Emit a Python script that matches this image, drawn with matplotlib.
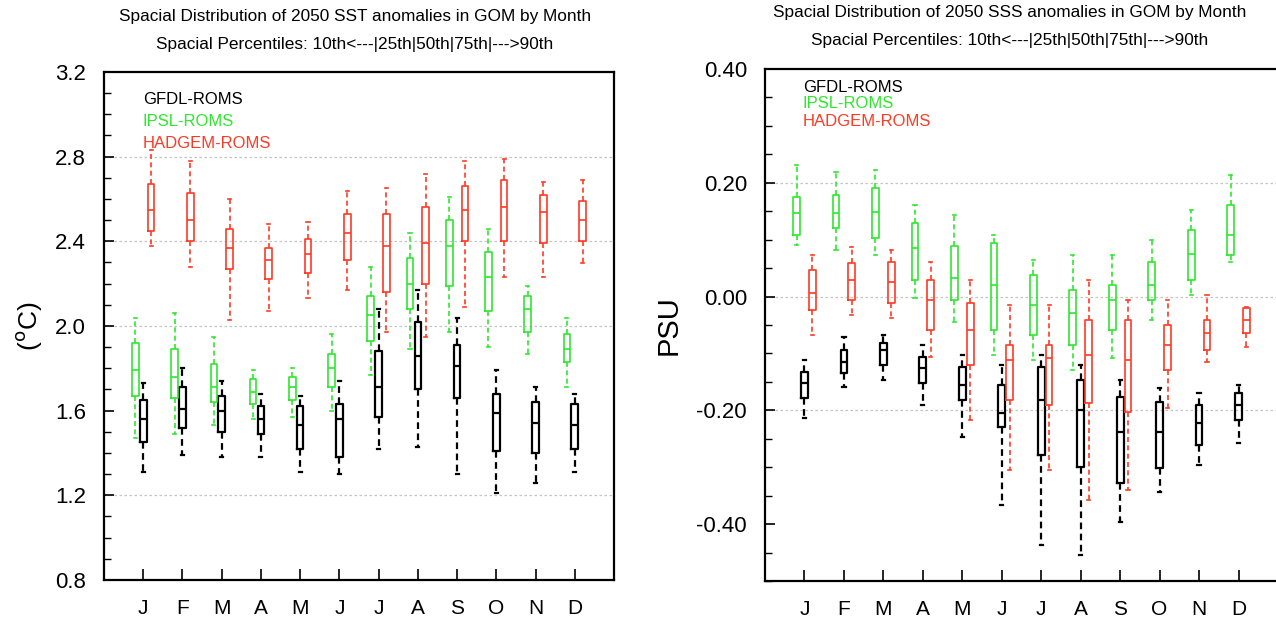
import numpy as np
import matplotlib
matplotlib.use('Agg')
import matplotlib.pyplot as plt
from matplotlib.ticker import MultipleLocator, FormatStrFormatter

plt.rcParams['font.family'] = ['Liberation Sans', 'DejaVu Sans']

months = ['J', 'F', 'M', 'A', 'M', 'J', 'J', 'A', 'S', 'O', 'N', 'D']
models = ['GFDL-ROMS', 'IPSL-ROMS', 'HADGEM-ROMS']

# rows: 10th, 25th, 50th, 75th, 90th spatial percentile ; columns: months
sst_gfdl = [
    [1.31, 1.39, 1.38, 1.38, 1.31, 1.30, 1.42, 1.43, 1.30, 1.21, 1.26, 1.31],
    [1.45, 1.52, 1.50, 1.49, 1.42, 1.38, 1.57, 1.70, 1.66, 1.41, 1.40, 1.42],
    [1.56, 1.61, 1.60, 1.56, 1.53, 1.56, 1.71, 1.86, 1.81, 1.59, 1.54, 1.53],
    [1.65, 1.71, 1.67, 1.62, 1.62, 1.63, 1.88, 2.02, 1.91, 1.68, 1.64, 1.63],
    [1.73, 1.80, 1.74, 1.68, 1.67, 1.74, 2.08, 2.17, 2.04, 1.79, 1.71, 1.68],
]
sst_ipsl = [
    [1.47, 1.49, 1.53, 1.56, 1.57, 1.60, 1.77, 1.89, 1.97, 1.90, 1.87, 1.71],
    [1.67, 1.66, 1.64, 1.63, 1.65, 1.71, 1.93, 2.08, 2.19, 2.07, 1.97, 1.83],
    [1.79, 1.76, 1.71, 1.69, 1.71, 1.80, 2.05, 2.20, 2.38, 2.23, 2.08, 1.89],
    [1.92, 1.89, 1.82, 1.75, 1.76, 1.87, 2.14, 2.32, 2.50, 2.35, 2.14, 1.96],
    [2.04, 2.06, 1.95, 1.79, 1.80, 1.96, 2.28, 2.44, 2.61, 2.46, 2.19, 2.04],
]
sst_hadgem = [
    [2.38, 2.28, 2.03, 2.07, 2.13, 2.17, 1.97, 1.95, 2.09, 2.23, 2.23, 2.30],
    [2.45, 2.40, 2.27, 2.22, 2.25, 2.31, 2.16, 2.20, 2.40, 2.40, 2.39, 2.40],
    [2.55, 2.50, 2.37, 2.31, 2.34, 2.44, 2.38, 2.39, 2.55, 2.56, 2.54, 2.50],
    [2.67, 2.63, 2.46, 2.37, 2.41, 2.53, 2.53, 2.56, 2.66, 2.69, 2.62, 2.59],
    [2.83, 2.78, 2.60, 2.48, 2.49, 2.64, 2.65, 2.72, 2.78, 2.79, 2.68, 2.69],
]

sss_gfdl = [
    [-0.213, -0.159, -0.147, -0.191, -0.247, -0.366, -0.437, -0.454, -0.396, -0.344, -0.296, -0.257],
    [-0.178, -0.134, -0.120, -0.152, -0.182, -0.229, -0.279, -0.300, -0.328, -0.301, -0.261, -0.217],
    [-0.152, -0.115, -0.094, -0.126, -0.155, -0.205, -0.182, -0.199, -0.238, -0.238, -0.222, -0.191],
    [-0.133, -0.094, -0.082, -0.106, -0.124, -0.155, -0.124, -0.147, -0.177, -0.185, -0.191, -0.170],
    [-0.112, -0.071, -0.068, -0.085, -0.103, -0.120, -0.103, -0.120, -0.147, -0.161, -0.170, -0.155],
]
sss_ipsl = [
    [0.091, 0.082, 0.073, -0.002, -0.045, -0.103, -0.112, -0.129, -0.108, -0.041, 0.003, 0.061],
    [0.108, 0.120, 0.103, 0.029, -0.006, -0.059, -0.068, -0.085, -0.059, -0.006, 0.029, 0.073],
    [0.147, 0.147, 0.149, 0.085, 0.033, 0.020, -0.015, -0.029, -0.006, 0.020, 0.075, 0.108],
    [0.175, 0.178, 0.191, 0.129, 0.089, 0.094, 0.038, 0.012, 0.020, 0.061, 0.117, 0.161],
    [0.231, 0.219, 0.222, 0.161, 0.143, 0.108, 0.064, 0.073, 0.073, 0.099, 0.152, 0.214],
]
sss_hadgem = [
    [-0.068, -0.032, -0.038, -0.106, -0.217, -0.305, -0.305, -0.358, -0.340, -0.196, -0.115, -0.089],
    [-0.024, -0.006, -0.011, -0.059, -0.120, -0.182, -0.191, -0.187, -0.203, -0.129, -0.094, -0.064],
    [0.006, 0.029, 0.026, -0.006, -0.059, -0.112, -0.108, -0.103, -0.111, -0.085, -0.064, -0.041],
    [0.047, 0.059, 0.061, 0.029, -0.011, -0.085, -0.085, -0.041, -0.041, -0.050, -0.041, -0.020],
    [0.073, 0.087, 0.082, 0.061, 0.029, -0.015, -0.015, 0.029, -0.006, -0.006, 0.003, -0.018],
]

colors = ['black', '#2ee82e', '#ff3a24']
offsets = [0.0, -0.2, 0.2]
lws = [1.6, 1.2, 1.2]


def draw_boxes(ax, data_list):
    for pct, col, off, lw in zip(data_list, colors, offsets, lws):
        pct = np.array(pct)
        stats = []
        for m in range(12):
            stats.append(dict(whislo=pct[0, m], q1=pct[1, m], med=pct[2, m],
                              q3=pct[3, m], whishi=pct[4, m], fliers=[]))
        pos = np.arange(1, 13) + off
        ax.bxp(stats, positions=pos, widths=0.17, showfliers=False,
               capwidths=0.08, manage_ticks=False,
               boxprops=dict(color=col, lw=lw),
               medianprops=dict(color=col, lw=lw),
               whiskerprops=dict(color=col, lw=lw, ls=(0, (3, 2))),
               capprops=dict(color=col, lw=lw))


def style_axes(ax, ylo, yhi, major, minor, fmt, grid_vals):
    ax.set_xlim(0, 13)
    ax.set_ylim(ylo, yhi)
    ax.set_xticks(np.arange(1, 13))
    ax.set_xticklabels(months, fontsize=15)
    ax.yaxis.set_major_locator(MultipleLocator(major))
    ax.yaxis.set_minor_locator(MultipleLocator(minor))
    ax.yaxis.set_major_formatter(FormatStrFormatter(fmt))
    ax.tick_params(axis='y', which='major', direction='in', length=7, width=1.2,
                   labelsize=16, pad=13, right=False)
    ax.tick_params(axis='y', which='minor', direction='in', length=5, width=1.0,
                   right=False)
    ax.tick_params(axis='x', which='both', direction='in', length=8, width=1.2,
                   pad=14, top=False)
    for s in ax.spines.values():
        s.set_linewidth(1.6)
    for t in grid_vals:
        ax.axhline(t, color='#c4c4c4', lw=0.9, ls=(0, (2, 2)), zorder=0)


fig = plt.figure(figsize=(12.76, 6.2), dpi=100)
W, H = 1276.0, 620.0

ax1 = fig.add_axes([104 / W, 40 / H, 510 / W, 508 / H])
style_axes(ax1, 0.8, 3.2, 0.4, 0.1, '%.1f', [1.2, 2.0, 2.4, 2.8])
draw_boxes(ax1, [sst_gfdl, sst_ipsl, sst_hadgem])
ax1.set_ylabel(r'($^{\rm o}$C)', fontsize=19, labelpad=8)
for i, (name, col) in enumerate(zip(models, colors)):
    ax1.text(39 / 510, 1 - (28 + 21.5 * i) / 508, name, color=col, fontsize=12,
             transform=ax1.transAxes, va='center', ha='left')

ax2 = fig.add_axes([765 / W, 39 / H, 513 / W, 512 / H])
style_axes(ax2, -0.5, 0.4, 0.2, 0.05, '%.2f', [-0.2, 0.0, 0.2])
draw_boxes(ax2, [sss_gfdl, sss_ipsl, sss_hadgem])
ax2.set_ylabel('PSU', fontsize=21, labelpad=10)
for i, (name, col) in enumerate(zip(models, colors)):
    ax2.text(38 / 513, 1 - (18 + 17 * i) / 512, name, color=col, fontsize=12,
             transform=ax2.transAxes, va='center', ha='left')

title1 = 'Spacial Distribution of 2050 SST anomalies in GOM by Month'
title2 = 'Spacial Distribution of 2050 SSS anomalies in GOM by Month'
subtitle = 'Spacial Percentiles: 10th<---|25th|50th|75th|--->90th'
fig.text(355 / W, 1 - 17 / H, title1, ha='center', va='center', fontsize=12.4)
fig.text(355 / W, 1 - 45 / H, subtitle, ha='center', va='center', fontsize=12.4)
fig.text(1010 / W, 1 - 13 / H, title2, ha='center', va='center', fontsize=12.4)
fig.text(1010 / W, 1 - 41 / H, subtitle, ha='center', va='center', fontsize=12.4)

fig.savefig('out.png', dpi=100)
